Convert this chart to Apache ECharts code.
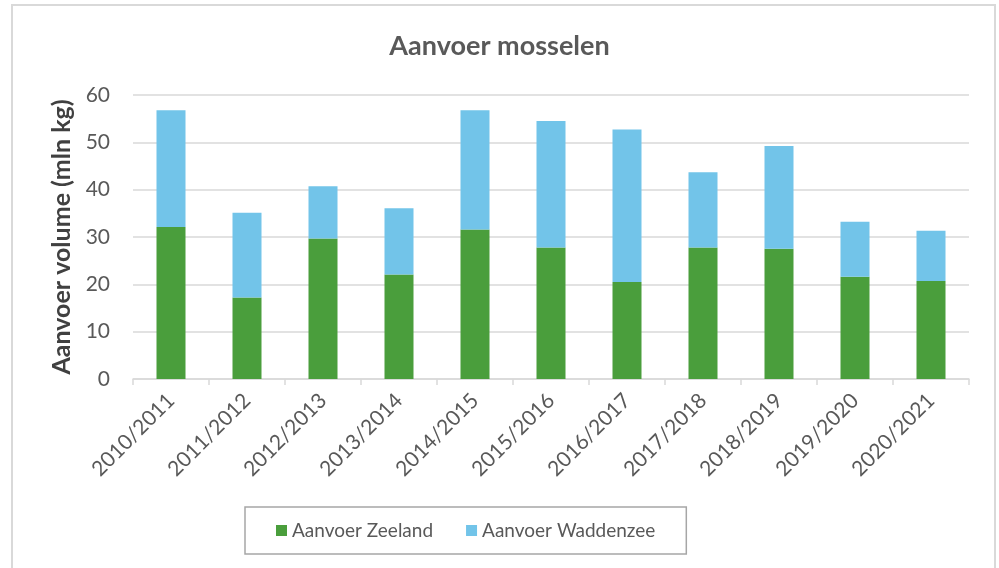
<!DOCTYPE html>
<html>
<head>
<meta charset="utf-8">
<script src="https://cdn.jsdelivr.net/npm/echarts@6/dist/echarts.min.js"></script>
<style>
  html, body { margin: 0; padding: 0; background: #fff; }
  #chart { width: 999px; height: 568px; }
</style>
</head>
<body>
<div id="chart"></div>
<script>
// seizoenen
const seasons = ["2010/2011", "2011/2012", "2012/2013", "2013/2014", "2014/2015", "2015/2016",
  "2016/2017", "2017/2018", "2018/2019", "2019/2020", "2020/2021"];
// aanvoer in mln kg
const zeeland = [32.1, 17.2, 29.7, 22.1, 31.6, 27.8, 20.5, 27.8, 27.5, 21.6, 20.7];
const waddenzee = [24.7, 17.9, 11.0, 14.0, 25.2, 26.7, 32.2, 15.9, 21.7, 11.6, 10.6];

const font = "Lato, 'Open Sans', sans-serif";
const mychart = echarts.init(document.getElementById("chart"));

let option = {
  animation: false,
  textStyle: { fontFamily: font },
  title: {
    text: "Aanvoer mosselen",
    left: "center",
    top: 28,
    textStyle: { fontSize: 27, fontWeight: "bold", color: "#595959", fontFamily: font },
  },
  graphic: [
    {
      type: "rect",
      shape: { x: 12, y: 5, width: 983, height: 600 },
      style: { fill: "none", stroke: "#d9d9d9", lineWidth: 2 },
      silent: true,
    },
  ],
  legend: {
    left: 245,
    top: 507,
    itemWidth: 11,
    itemHeight: 11,
    itemGap: 33,
    padding: [14, 31, 14, 31],
    borderColor: "#a6a6a6",
    borderWidth: 1.5,
    icon: "rect",
    textStyle: { fontSize: 19, color: "#595959", fontFamily: font },
    data: ["Aanvoer Zeeland", "Aanvoer Waddenzee"],
  },
  grid: { left: 133, right: 30, top: 95, bottom: 189 },
  xAxis: {
    type: "category",
    data: seasons,
    axisLine: { lineStyle: { color: "#d9d9d9", width: 1.5 } },
    axisTick: { show: true, length: 6, lineStyle: { color: "#d9d9d9", width: 1.5 } },
    axisLabel: { rotate: 45, fontSize: 21, color: "#595959", margin: 18, interval: 0 },
  },
  yAxis: {
    type: "value",
    min: 0,
    max: 60,
    interval: 10,
    name: "Aanvoer volume (mln kg)",
    nameLocation: "middle",
    nameGap: 54,
    nameRotate: 90,
    nameTextStyle: { fontSize: 25, fontWeight: "bold", color: "#404040", fontFamily: font },
    axisLine: { show: false },
    axisTick: { show: false },
    axisLabel: { fontSize: 21, color: "#595959", margin: 23 },
    splitLine: { lineStyle: { color: "#d9d9d9", width: 1.5 } },
  },
  series: [
    {
      name: "Aanvoer Zeeland",
      type: "bar",
      stack: "total",
      barWidth: 29,
      itemStyle: { color: "#4a9e3c" },
      data: zeeland,
    },
    {
      name: "Aanvoer Waddenzee",
      type: "bar",
      stack: "total",
      barWidth: 29,
      itemStyle: { color: "#72c4e9" },
      data: waddenzee,
    },
  ],
};
mychart.setOption(option);
</script>
</body>
</html>
